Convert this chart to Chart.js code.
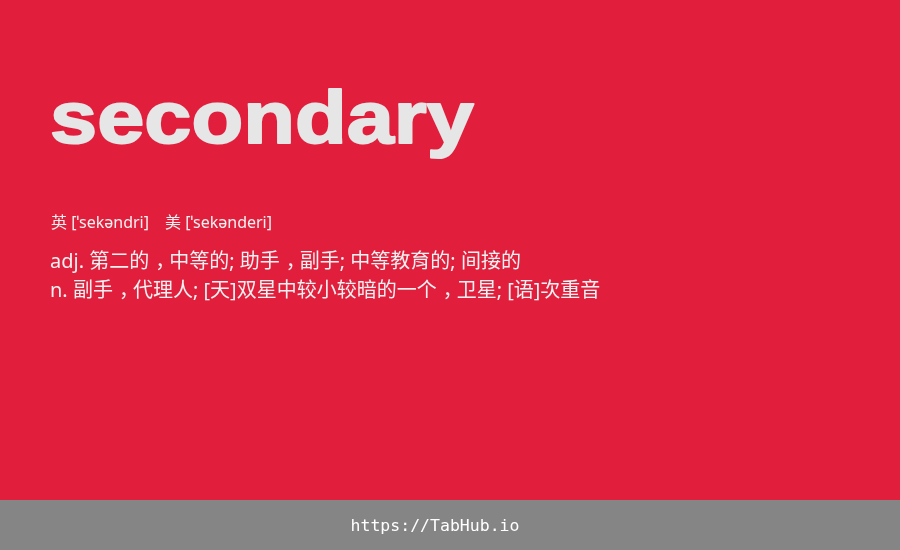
<!DOCTYPE html>
<html>
<head>
<meta charset="utf-8">
<script src="https://cdn.jsdelivr.net/npm/chart.js@4/dist/chart.umd.min.js"></script>
<style>
  html, body { margin: 0; padding: 0; background: #e11f3d; }
  #wrap { width: 900px; height: 550px; }
</style>
</head>
<body>
<div id="wrap"><canvas id="card"></canvas></div>
<script>
// card content
var word = 'secondary';
var phonetics = ['英 [ˈsekəndri]', '美 [ˈsekənderi]'];
var definitions = [
    'adj. 第二的，中等的; 助手，副手; 中等教育的; 间接的',
    'n. 副手，代理人; [天]双星中较小较暗的一个，卫星; [语]次重音'
];
var footer = 'https://TabHub.io';

// write a line, putting full-width commas low and centred in their cell
function drawLine(c, text, x, y, size) {
    var mainFont = size + 'px "Noto Sans", "Noto Sans CJK TC", sans-serif';
    var commaFont = size + 'px "Noto Sans CJK SC", sans-serif';
    var parts = text.split('，');
    parts.forEach(function (part, i) {
        c.font = mainFont;
        c.fillText(part, x, y);
        x += c.measureText(part).width;
        if (i < parts.length - 1) {
            c.font = commaFont;
            var w = c.measureText('，').width;
            c.fillText('，', x + w * 0.3, y);
            x += w;
        }
    });
}

// draws the card background and all the text
var cardPlugin = {
    id: 'card',
    beforeDraw: function (chart) {
        var c = chart.ctx;
        c.save();
        c.fillStyle = '#e11f3d';
        c.fillRect(0, 0, chart.width, chart.height);
        c.fillStyle = '#858585';
        c.fillRect(0, 500, chart.width, 50);
        c.restore();
    },
    afterDraw: function (chart) {
        var c = chart.ctx;
        c.save();
        c.textBaseline = 'alphabetic';
        c.textAlign = 'left';

        // heavy, slightly wide headword
        c.save();
        c.translate(50, 143);
        c.scale(1.13, 1);
        c.fillStyle = '#e6e6e6';
        c.strokeStyle = '#e6e6e6';
        c.lineWidth = 2;
        c.lineJoin = 'round';
        c.font = 'bold 75px "Liberation Sans", Arial, sans-serif';
        c.fillText(word, 0, 0);
        c.strokeText(word, 0, 0);
        c.restore();

        c.fillStyle = '#f2f2f2';
        c.font = '16px "Noto Sans", "Noto Sans CJK TC", sans-serif';
        c.fillText(phonetics[0], 51, 228);
        c.fillText(phonetics[1], 165, 228);

        definitions.forEach(function (line, i) {
            drawLine(c, line, 50, 268 + i * 29, 20);
        });

        c.fillStyle = '#ffffff';
        c.font = '16.5px "DejaVu Sans Mono", monospace';
        c.textAlign = 'center';
        c.fillText(footer, 435, 531);
        c.restore();
    }
};

var ctx = document.getElementById('card').getContext('2d');
var chart = new Chart(ctx, {
    type: 'bar',
    data: { labels: [], datasets: [{ data: [] }] },
    options: {
        responsive: true,
        maintainAspectRatio: false,
        animation: false,
        layout: { padding: 0 },
        scales: { x: { display: false }, y: { display: false } },
        plugins: { legend: { display: false }, tooltip: { enabled: false } }
    },
    plugins: [cardPlugin]
});
</script>
</body>
</html>
